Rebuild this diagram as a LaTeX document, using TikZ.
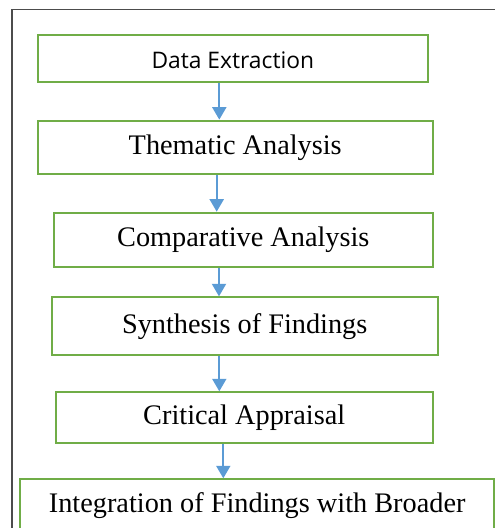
\documentclass[tikz,border=0pt]{standalone}
\usepackage{fontspec}
\setmainfont{Liberation Serif}
\newfontfamily\labelsans{Open Sans}
\usepackage{tikz}
\usetikzlibrary{positioning,arrows.meta}
\usepackage{xcolor}
\definecolor{stagegreen}{RGB}{112,173,71}
\definecolor{flowblue}{RGB}{91,155,213}
\colorlet{framegray}{black!70}
\tikzstyle{stage}=[draw=stagegreen,line width=2pt,inner sep=0,font=\fontsize{28.3}{32}\selectfont]
\tikzstyle{flow}=[draw=flowblue,line width=2pt,-{Triangle[width=14pt,length=12.5pt]}]

\begin{document}
\begin{tikzpicture}[x=1pt,y=-1pt]
\useasboundingbox (0,0) rectangle (495,528);
\clip (0,0) rectangle (495,528);

% outer frame, runs off the right and bottom
\draw[framegray,line width=1.6pt] (11.7,9.5) rectangle (520,560);

\node[stage, minimum width=389.5pt, minimum height=46.7pt, text height=20.6pt, text depth=0pt, font=\labelsans\fontsize{22.8}{26}\selectfont] (extract) at (232.8,58.3) {Data Extraction};
\node[stage, minimum width=395pt, minimum height=53.3pt] (thematic) at (235.2,147.3) {Thematic Analysis};
\node[stage, minimum width=378.7pt, minimum height=54pt] (compare) at (243.3,239.7) {Comparative Analysis};
\node[stage, minimum width=386pt, minimum height=57.7pt] (synth) at (244.7,326.2) {Synthesis of Findings};
\node[stage, minimum width=377pt, minimum height=51pt] (appraise) at (244.2,417.8) {Critical Appraisal};
\node[stage, anchor=north, minimum width=474.3pt, text height=33.4pt, text depth=30pt] (integrate) at (257.2,478.3) {Integration of Findings with Broader};

\draw[flow] ([xshift=-13.5pt]extract.south) -- ([xshift=-15.9pt]thematic.north);
\draw[flow] ([xshift=-18.5pt]thematic.south) -- ([xshift=-26.6pt]compare.north);
\draw[flow] ([xshift=-24.3pt]compare.south) -- ([xshift=-25.7pt]synth.north);
\draw[flow] ([xshift=-25.4pt]synth.south) -- ([xshift=-24.9pt]appraise.north);
\draw[flow] ([xshift=-20.9pt]appraise.south) -- ([xshift=-33.9pt]integrate.north);

\end{tikzpicture}
\end{document}
